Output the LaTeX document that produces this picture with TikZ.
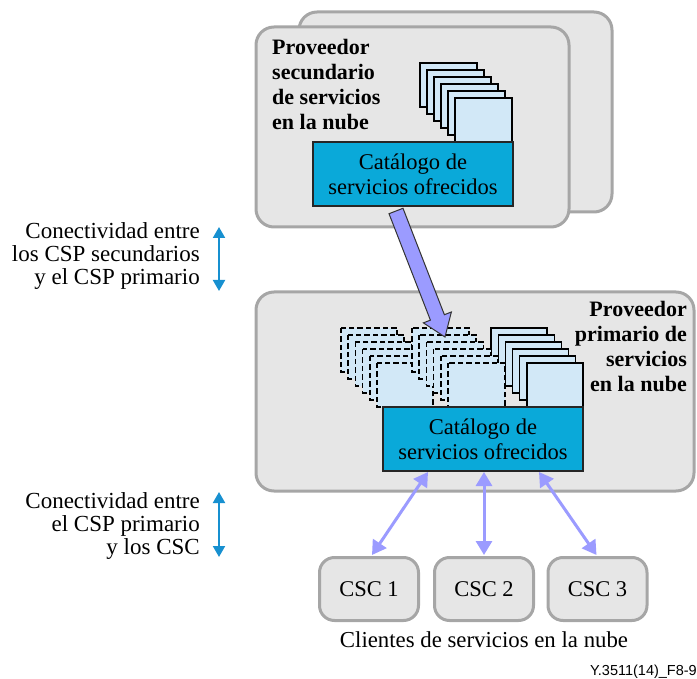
\documentclass[tikz,border=0pt]{standalone}
\usepackage{fontspec}
\setmainfont{Liberation Serif}
\newfontfamily\labelsans{Liberation Sans}
\usetikzlibrary{arrows.meta,calc}
\definecolor{boxfill}{HTML}{E6E6E6}
\definecolor{boxline}{HTML}{A6A6A6}
\definecolor{cardfill}{HTML}{D2E8F7}
\definecolor{catfill}{HTML}{0AA9D9}
\definecolor{lav}{HTML}{9B9BFF}
\definecolor{conblue}{HTML}{1790D0}
\tikzset{
  bigbox/.style={draw=boxline, fill=boxfill, line width=3pt, rounded corners=18pt},
  cscbox/.style={draw=boxline, fill=boxfill, line width=3pt, rounded corners=15pt,
    minimum width=99pt, minimum height=63pt, inner sep=0pt, font=\fontsize{22.5}{23}\selectfont},
  card/.style={draw=black, fill=cardfill, line width=1.1pt},
  dcard/.style={draw=black, fill=cardfill, line width=1.5pt, dash pattern=on 5.5pt off 3pt},
  catbox/.style={draw=black!85, fill=catfill, line width=1.3pt},
  cattext/.style={align=center, inner sep=0pt, font=\fontsize{22.5}{25}\selectfont},
  titletext/.style={inner sep=0pt, font=\bfseries\fontsize{22}{25}\selectfont},
  sidetext/.style={align=right, inner sep=0pt, anchor=east, font=\fontsize{23}{23}\selectfont},
  lavarrow/.style={draw=lav, line width=3pt, {Triangle[length=14pt,width=16pt]}-{Triangle[length=14pt,width=16pt]}},
  bluearrow/.style={draw=conblue, line width=2pt, {Triangle[length=11pt,width=12pt]}-{Triangle[length=11pt,width=12pt]}}
}
\begin{document}
\begin{tikzpicture}[x=1pt,y=-1pt]
\useasboundingbox (0,0) rectangle (697,679);

% secondary CSP
\draw[bigbox] (299,12) rectangle (612,212);
\draw[bigbox] (256,27) rectangle (569,227);
\node[titletext, align=left, anchor=west] (sectitle) at (272,85)
  {Proveedor\\secundario\\de servicios\\en la nube};
\foreach \i in {0,...,5}
  \draw[card] ({420+7*\i},{63+7*\i}) rectangle ++(57,44);
\draw[catbox] (313,142) rectangle (513,206);
\node[cattext] (seccat) at (413,174) {Catálogo de\\servicios ofrecidos};

% primary CSP
\draw[bigbox] (256,292) rectangle (694,491);
\node[titletext, align=right, anchor=east] (primtitle) at (687,347)
  {Proveedor\\primario de\\servicios\\en la nube};
\foreach \i in {0,...,5}
  \draw[card] ({491+7.2*\i},{328+7*\i}) rectangle ++(56,44);
\foreach \i in {0,...,5}
  \draw[dcard] ({341+7.2*\i},{328+7*\i}) rectangle ++(56,44);
\foreach \i in {0,...,5}
  \draw[dcard] ({412+7.2*\i},{328+7*\i}) rectangle ++(57,44);
\draw[catbox] (383,407) rectangle (583,471);
\node[cattext] (primcat) at (483,439) {Catálogo de\\servicios ofrecidos};

% big arrow
\coordinate (as) at (396,211);
\coordinate (at) at (445,337);
\coordinate (ab) at ($(at)!21pt!(as)$);
\draw[fill=lav, draw=black!80, line width=1pt, line join=miter]
  ($(as)!7.5pt!90:(at)$) -- ($(ab)!7.5pt!-90:(as)$) -- ($(ab)!15pt!-90:(as)$)
  -- (at) -- ($(ab)!15pt!90:(as)$) -- ($(ab)!7.5pt!90:(as)$)
  -- ($(as)!7.5pt!-90:(at)$) -- cycle;

% CSC boxes
\node[cscbox] (csc1) at (369,589) {CSC 1};
\node[cscbox] (csc2) at (484,589) {CSC 2};
\node[cscbox] (csc3) at (597.5,589) {CSC 3};
\node[inner sep=0pt, font=\fontsize{22.8}{23}\selectfont] (clients) at (484,640)
  {Clientes de servicios en la nube};

\coordinate (p1) at (428,472);
\coordinate (p2) at (484,472);
\coordinate (p3) at (539,472);
\draw[lavarrow] (p1) -- ($(csc1.north)+(3,-1)$);
\draw[lavarrow] (p2) -- ($(csc2.north)+(0,-1)$);
\draw[lavarrow] (p3) -- ($(csc3.north)+(-1,-1)$);

% left labels
\node[sidetext] (lab1) at (200,256) {Conectividad entre\\los CSP secundarios\\y el CSP primario};
\coordinate (a1t) at (219,227);
\coordinate (a1b) at (219,291);
\draw[bluearrow] (a1t) -- (a1b);

\node[sidetext] (lab2) at (200,526) {Conectividad entre\\el CSP primario\\y los CSC};
\coordinate (a2t) at (219,492);
\coordinate (a2b) at (219,557);
\draw[bluearrow] (a2t) -- (a2b);

\node[inner sep=0pt, anchor=east, font=\labelsans\fontsize{14.5}{16}\selectfont] (figid) at (697,672) {Y.3511(14)\_F8-9};
\end{tikzpicture}
\end{document}
